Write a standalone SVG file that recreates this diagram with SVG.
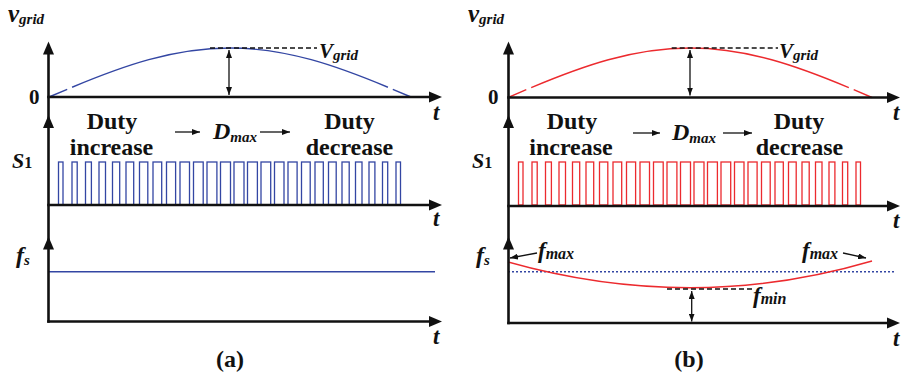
<svg xmlns="http://www.w3.org/2000/svg" xmlns:xlink="http://www.w3.org/1999/xlink" width="904" height="378" viewBox="0 0 904 378">
  <style>
    text { font-family: "Liberation Serif", "Times New Roman", serif; font-weight: bold; fill: #111; }
    .it { font-style: italic; }
    .axis { stroke: #111; stroke-width: 2.6; fill: none; }
    .thin { stroke: #111; stroke-width: 1.3; fill: none; }
    .dash { stroke: #111; stroke-width: 1.5; fill: none; stroke-dasharray: 5 3; }
    .blue { stroke: #3346a3; stroke-width: 1.4; fill: none; }
    .red { stroke: #ec2a2e; stroke-width: 1.4; fill: none; }
    .gap { stroke-dasharray: 5.2 1.4 86.8 1.4 5.2; }
    .ah { fill: #111; }
    .pulse rect { fill: none; stroke-width: 1.3; }
  </style>
  <defs>
    <!-- axis arrowhead, tip at origin, pointing +x -->
    <path id="ah" class="ah" d="M0,0 L-13,-5.5 L-13,5.5 Z"/>
    <marker id="sm" viewBox="0 0 8 6" refX="8" refY="3" markerWidth="8" markerHeight="6" markerUnits="userSpaceOnUse" orient="auto-start-reverse">
      <path d="M0,0 L8,3 L0,6 Z" fill="#111"/>
    </marker>
    <!-- switching pulse train S1 -->
    <g id="train" class="pulse">
      <rect x="58.5" y="162" width="4.5" height="43"/>
      <rect x="72" y="162" width="5.2" height="43"/>
      <rect x="85.5" y="162" width="5.9" height="43"/>
      <rect x="99" y="162" width="6.5" height="43"/>
      <rect x="112.5" y="162" width="7.2" height="43"/>
      <rect x="126" y="162" width="7.7" height="43"/>
      <rect x="139.5" y="162" width="8.3" height="43"/>
      <rect x="153" y="162" width="8.7" height="43"/>
      <rect x="166.5" y="162" width="9.1" height="43"/>
      <rect x="180" y="162" width="9.5" height="43"/>
      <rect x="193.5" y="162" width="9.7" height="43"/>
      <rect x="207" y="162" width="9.9" height="43"/>
      <rect x="220.5" y="162" width="10" height="43"/>
      <rect x="234" y="162" width="10" height="43"/>
      <rect x="247.5" y="162" width="9.9" height="43"/>
      <rect x="261" y="162" width="9.7" height="43"/>
      <rect x="274.5" y="162" width="9.5" height="43"/>
      <rect x="288" y="162" width="9.1" height="43"/>
      <rect x="301.5" y="162" width="8.7" height="43"/>
      <rect x="315" y="162" width="8.3" height="43"/>
      <rect x="328.5" y="162" width="7.7" height="43"/>
      <rect x="342" y="162" width="7.2" height="43"/>
      <rect x="355.5" y="162" width="6.5" height="43"/>
      <rect x="369" y="162" width="5.9" height="43"/>
      <rect x="382.5" y="162" width="5.2" height="43"/>
      <rect x="396" y="162" width="4.5" height="43"/>
    </g>
  </defs>

  <rect width="904" height="378" fill="#fff"/>

  <!-- ===== Panel (a): constant switching frequency ===== -->
  <g id="panel-a">
    <g id="a-waves">
      <path class="blue gap" pathLength="100" d="M49,97 C108,71.9 164.5,48 230,48 C295.5,48 352,71.9 411,97"/>
      <use xlink:href="#train" href="#train" stroke="#3346a3"/>
      <line class="blue" x1="49" y1="271.7" x2="435" y2="271.7"/>
    </g>
    <g id="a-axes">
      <line class="axis" x1="48.5" y1="50" x2="48.5" y2="322.8"/>
      <line class="axis" x1="47.2" y1="97" x2="432" y2="97"/>
      <line class="axis" x1="47.2" y1="205" x2="432" y2="205"/>
      <line class="axis" x1="47.2" y1="321.5" x2="432" y2="321.5"/>
      <use xlink:href="#ah" href="#ah" transform="translate(48.5,41.5) rotate(-90)"/>
      <use xlink:href="#ah" href="#ah" transform="translate(48.5,115) rotate(-90)"/>
      <use xlink:href="#ah" href="#ah" transform="translate(48.5,236.5) rotate(-90)"/>
      <use xlink:href="#ah" href="#ah" transform="translate(442,97)"/>
      <use xlink:href="#ah" href="#ah" transform="translate(442,205)"/>
      <use xlink:href="#ah" href="#ah" transform="translate(442,321.5)"/>
    </g>
    <g id="a-peak">
      <line class="dash" x1="210" y1="48" x2="317" y2="48"/>
      <line class="thin" x1="229" y1="50" x2="229" y2="95" marker-start="url(#sm)" marker-end="url(#sm)"/>
      <text x="319" y="58" font-size="21" class="it">V<tspan font-size="15" dy="2">grid</tspan></text>
    </g>
    <g id="a-labels">
      <text x="8" y="22" font-size="25" class="it">v<tspan font-size="15" dy="2">grid</tspan></text>
      <text x="39.5" y="103.5" font-size="21" text-anchor="end">0</text>
      <text x="12" y="168" font-size="22" class="it">S<tspan font-size="16" font-style="normal">1</tspan></text>
      <text x="16" y="263" font-size="24" class="it">f<tspan font-size="15" dy="2">s</tspan></text>
      <text x="433" y="120" font-size="23" class="it">t</text>
      <text x="433" y="226" font-size="23" class="it">t</text>
      <text x="433" y="344" font-size="23" class="it">t</text>
      <text x="230" y="367" font-size="24" text-anchor="middle">(a)</text>
    </g>
    <g id="a-duty">
      <text x="112" y="129" font-size="24" text-anchor="middle">Duty</text>
      <text x="111.5" y="155" font-size="24" text-anchor="middle">increase</text>
      <line class="thin" x1="175" y1="132" x2="200" y2="132" marker-end="url(#sm)"/>
      <text x="213" y="139" font-size="24" class="it">D<tspan font-size="15" dy="3">max</tspan></text>
      <line class="thin" x1="260" y1="132" x2="290" y2="132" marker-end="url(#sm)"/>
      <text x="349.5" y="129" font-size="24" text-anchor="middle">Duty</text>
      <text x="349.5" y="155" font-size="24" text-anchor="middle">decrease</text>
    </g>
  </g>

  <!-- ===== Panel (b): variable switching frequency ===== -->
  <g id="panel-b">
    <g id="b-waves">
      <path class="red gap" pathLength="100" d="M508,97.5 C567.4,72 624.2,48 690,48 C755.8,48 812.6,72 872,97.5"/>
      <use xlink:href="#train" href="#train" x="460" stroke="#ec2a2e"/>
      <line class="blue" x1="508" y1="271.7" x2="895" y2="271.7" stroke-dasharray="2 2"/>
      <path class="red" d="M508,262 Q599,287.7 690,287.7 Q781,287.7 872,261"/>
    </g>
    <g id="b-axes">
      <line class="axis" x1="508.5" y1="50" x2="508.5" y2="324.3"/>
      <line class="axis" x1="507.2" y1="97.5" x2="890" y2="97.5"/>
      <line class="axis" x1="507.2" y1="206" x2="890" y2="206"/>
      <line class="axis" x1="507.2" y1="323" x2="890" y2="323"/>
      <use xlink:href="#ah" href="#ah" transform="translate(508.5,41.5) rotate(-90)"/>
      <use xlink:href="#ah" href="#ah" transform="translate(508.5,115) rotate(-90)"/>
      <use xlink:href="#ah" href="#ah" transform="translate(508.5,236.5) rotate(-90)"/>
      <use xlink:href="#ah" href="#ah" transform="translate(900,97.5)"/>
      <use xlink:href="#ah" href="#ah" transform="translate(900,206)"/>
      <use xlink:href="#ah" href="#ah" transform="translate(900,323)"/>
    </g>
    <g id="b-peak">
      <line class="dash" x1="671.7" y1="48" x2="778" y2="48"/>
      <line class="thin" x1="690" y1="50" x2="690" y2="95.5" marker-start="url(#sm)" marker-end="url(#sm)"/>
      <text x="779" y="58" font-size="21" class="it">V<tspan font-size="15" dy="2">grid</tspan></text>
    </g>
    <g id="b-fs">
      <line class="thin" x1="537" y1="253" x2="510" y2="258" marker-end="url(#sm)"/>
      <text x="538" y="258" font-size="23" class="it">f<tspan font-size="16" dy="1">max</tspan></text>
      <line class="thin" x1="843" y1="253" x2="866" y2="258" marker-end="url(#sm)"/>
      <text x="802" y="258" font-size="23" class="it">f<tspan font-size="16" dy="1">max</tspan></text>
      <line class="dash" x1="667" y1="289" x2="752" y2="289"/>
      <line class="thin" x1="691.7" y1="291" x2="691.7" y2="321.5" marker-start="url(#sm)" marker-end="url(#sm)"/>
      <text x="753" y="303" font-size="23" class="it">f<tspan font-size="16" dy="1">min</tspan></text>
    </g>
    <g id="b-labels">
      <text x="468" y="22" font-size="25" class="it">v<tspan font-size="15" dy="2">grid</tspan></text>
      <text x="498.5" y="103.5" font-size="21" text-anchor="end">0</text>
      <text x="472" y="168" font-size="22" class="it">S<tspan font-size="16" font-style="normal">1</tspan></text>
      <text x="476" y="263" font-size="24" class="it">f<tspan font-size="15" dy="2">s</tspan></text>
      <text x="893" y="120" font-size="23" class="it">t</text>
      <text x="893" y="228" font-size="23" class="it">t</text>
      <text x="893" y="346" font-size="23" class="it">t</text>
      <text x="689" y="367" font-size="24" text-anchor="middle">(b)</text>
    </g>
    <g id="b-duty">
      <text x="572" y="129" font-size="24" text-anchor="middle">Duty</text>
      <text x="571" y="155" font-size="24" text-anchor="middle">increase</text>
      <line class="thin" x1="633" y1="133" x2="660" y2="133" marker-end="url(#sm)"/>
      <text x="672" y="140" font-size="24" class="it">D<tspan font-size="15" dy="3">max</tspan></text>
      <line class="thin" x1="723" y1="133" x2="752" y2="133" marker-end="url(#sm)"/>
      <text x="799" y="129" font-size="24" text-anchor="middle">Duty</text>
      <text x="799.5" y="155" font-size="24" text-anchor="middle">decrease</text>
    </g>
  </g>
</svg>
